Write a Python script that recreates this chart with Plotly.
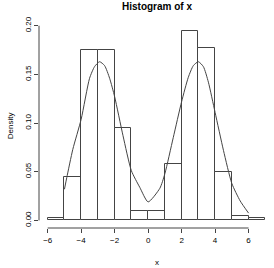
import plotly.graph_objects as go

# Histogram bins (left edges, width 1) and densities
bin_left = [-6, -5, -4, -3, -2, -1, 0, 1, 2, 3, 4, 5, 6]
density = [0.0025, 0.045, 0.175, 0.175, 0.095, 0.01, 0.01, 0.0575, 0.195, 0.1775, 0.05, 0.005, 0.0025]

# Density curve points
curve_x = [-5.0, -4.86, -4.5, -4.0, -3.5, -3.2, -2.9, -2.6, -2.3, -2.0, -1.5, -1.0, -0.5, 0.0,
           0.7, 1.0, 1.5, 2.0, 2.4, 2.7, 3.0, 3.3, 3.6, 4.0, 4.5, 5.0, 5.5, 6.0]
curve_y = [0.032, 0.044, 0.073, 0.104, 0.146, 0.158, 0.163, 0.159, 0.146, 0.127, 0.087, 0.051, 0.034, 0.019,
           0.033, 0.048, 0.085, 0.122, 0.147, 0.159, 0.163, 0.158, 0.142, 0.111, 0.072, 0.038, 0.020, 0.0075]

x_ticks = [-6, -4, -2, 0, 2, 4, 6]
y_ticks = [0.00, 0.05, 0.10, 0.15, 0.20]
y_tick_text = ["0.00", "0.05", "0.10", "0.15", "0.20"]

LC = "#444444"
FONT = "Liberation Sans, Arial, sans-serif"

centers = [b + 0.5 for b in bin_left]

fig = go.Figure()
fig.add_trace(go.Bar(x=centers, y=density, width=1,
                     marker=dict(color="white", line=dict(color=LC, width=1)),
                     hoverinfo="skip"))
fig.add_trace(go.Scatter(x=curve_x, y=curve_y, mode="lines",
                         line=dict(color=LC, width=1, shape="spline", smoothing=0.6),
                         hoverinfo="skip"))

# R-style axis lines spanning only the tick range
fig.add_shape(type="line", xref="x", yref="paper", x0=x_ticks[0], x1=x_ticks[-1], y0=0, y1=0,
              line=dict(color=LC, width=1))
fig.add_shape(type="line", xref="paper", yref="y", x0=0, x1=0, y0=y_ticks[0], y1=y_ticks[-1],
              line=dict(color=LC, width=1))

fig.add_annotation(text="<b>Histogram of x</b>", xref="x", yref="paper", x=0.5, y=1.08,
                   showarrow=False, font=dict(family=FONT, size=10, color="black"),
                   xanchor="center", yanchor="middle")
fig.add_annotation(text="x", xref="x", yref="paper", x=0.5, y=-0.169,
                   showarrow=False, font=dict(family=FONT, size=8, color="black"),
                   xanchor="center", yanchor="middle")
fig.add_annotation(text="Density", xref="paper", yref="paper", x=-0.12, y=0.5, textangle=-90,
                   showarrow=False, font=dict(family=FONT, size=8, color="black"),
                   xanchor="center", yanchor="middle")

fig.update_layout(
    width=274, height=268,
    margin=dict(l=39, r=0, t=23, b=40),
    paper_bgcolor="white", plot_bgcolor="white",
    showlegend=False, bargap=0,
    xaxis=dict(range=[-6.52, 7.52], tickvals=x_ticks, ticks="outside", ticklen=4,
               tickcolor=LC, showgrid=False, zeroline=False, showline=False,
               tickfont=dict(family=FONT, size=8, color="black")),
    yaxis=dict(range=[-0.0078, 0.2028], tickvals=y_ticks, ticktext=y_tick_text,
               ticks="outside", ticklen=4, tickcolor=LC, tickangle=-90,
               showgrid=False, zeroline=False, showline=False,
               tickfont=dict(family=FONT, size=8, color="black")),
)

fig.write_html("out.html")
